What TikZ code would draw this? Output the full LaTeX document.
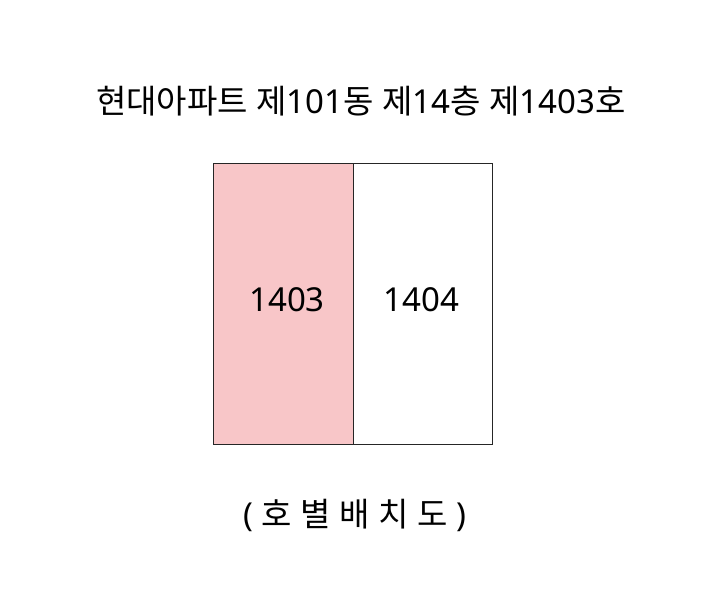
\documentclass[tikz,border=0pt]{standalone}
\usepackage{fontspec}
\setmainfont{Noto Sans}
\newfontfamily\kr{Noto Sans CJK KR}
\definecolor{unitpink}{HTML}{F8C6C8}

\begin{document}
\begin{tikzpicture}[x=1pt, y=-1pt]
            \useasboundingbox (0,0) rectangle (710,600);

            % Title
            \node[font=\fontsize{33}{38}\selectfont] (title) at (361,101)
                {{\kr 현대아파트} {\kr 제}101{\kr 동} {\kr 제}14{\kr 층} {\kr 제}1403{\kr 호}};

            % Unit 1403
            \node[rectangle, draw=black!85, fill=unitpink, line width=1.2pt, minimum width=140pt, minimum height=281pt, anchor=north west] (unitA) at (213,163) {};
            \node[font=\fontsize{33}{38}\selectfont] (labelA) at (287,300) {1403};

            % Unit 1404
            \node[rectangle, draw=black!85, fill=white, line width=1.2pt, minimum width=139pt, minimum height=281pt, anchor=north west] (unitB) at (353,163) {};
            \node[font=\fontsize{33}{38}\selectfont] (labelB) at (421.5,300) {1404};

            % Caption
            \node[font=\fontsize{33}{38}\selectfont] (caption) at (355,515)
                {( {\kr 호} {\kr 별} {\kr 배} {\kr 치} {\kr 도} )};
        \end{tikzpicture}
\end{document}
